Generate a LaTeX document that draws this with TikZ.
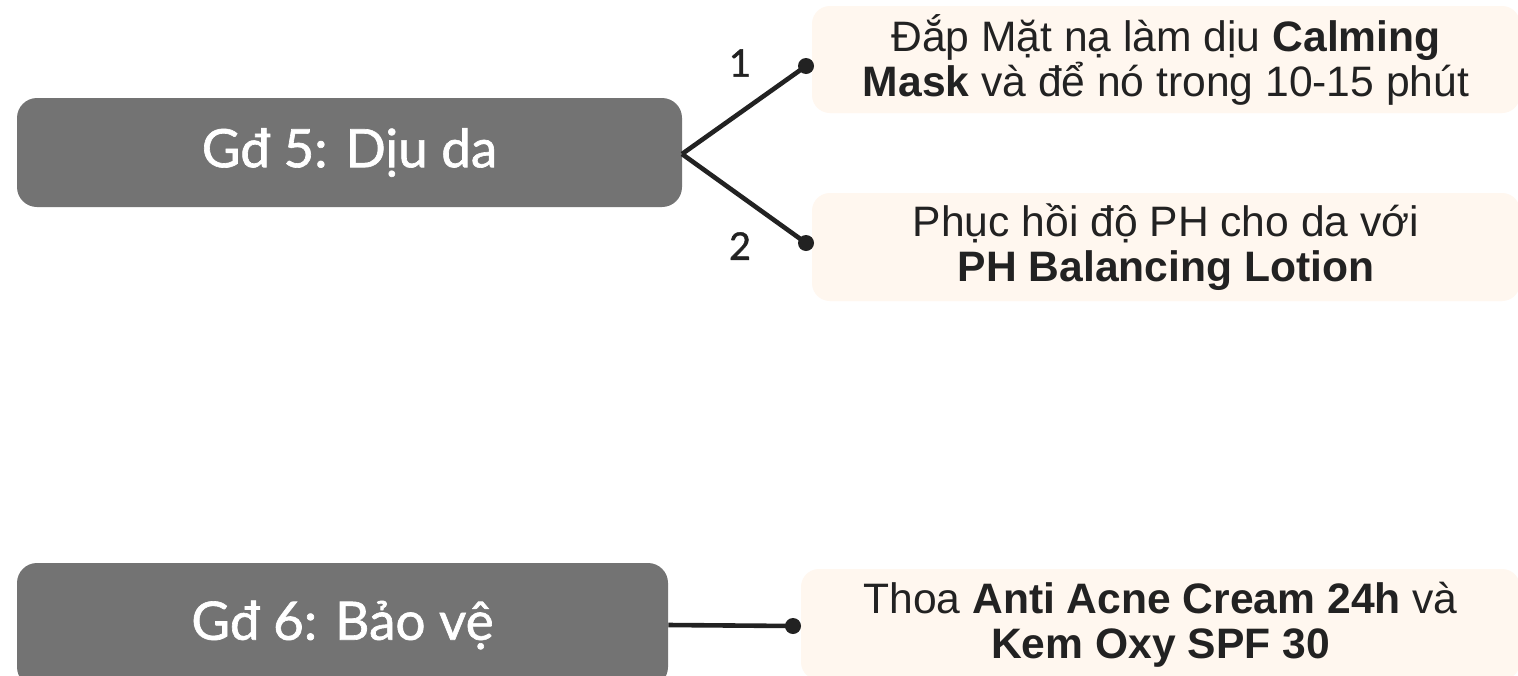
\documentclass[tikz,border=0pt]{standalone}
\usepackage{fontspec}
\setmainfont{Liberation Sans}
\newfontfamily\labelfont[FakeBold=1.2]{Lato}
\definecolor{stagegray}{HTML}{737373}
\definecolor{stepfill}{HTML}{FFF7EF}
\definecolor{inkdark}{HTML}{222222}
\tikzset{
  stagebox/.style={fill=stagegray, rounded corners=10pt, text=white, inner sep=0pt,
    font={\labelfont\fontsize{26.5}{30}\selectfont}},
  stepbox/.style={fill=stepfill, rounded corners=9pt, text=inkdark, inner sep=0pt, align=center,
    font={\fontsize{21.3}{22.5}\selectfont}},
  numlabel/.style={text=inkdark, inner sep=0pt, font={\labelfont\fontsize{19}{22}\selectfont}},
  dotnode/.style={circle, fill=inkdark, minimum size=8pt, inner sep=0pt},
  link/.style={draw=inkdark, line width=2.3pt}
}
\begin{document}
\begin{tikzpicture}[x=0.5pt, y=-0.5pt]
\useasboundingbox (0,0) rectangle (1518,675);
\fill[white] (0,0) rectangle (1518,675);
\clip (0,0) rectangle (1518,675);
% stage boxes
\node[stagebox, minimum width=332.5pt, minimum height=54.5pt] (g5) at (349.5,152.5) {Gđ 5: Dịu da};
\node[stagebox, minimum width=325.5pt, minimum height=62pt] (g6) at (342.5,625) {Gđ 6: Bảo vệ};
% step boxes
\node[stepbox, minimum width=354pt, minimum height=53.5pt] (s1) at (1166,59.5)
  {Đắp Mặt nạ làm dịu \textbf{Calming}\\\textbf{Mask} và để nó trong 10-15 phút};
\node[stepbox, minimum width=354pt, minimum height=54pt] (s2) at (1166,247)
  {Phục hồi độ PH cho da với\\\textbf{PH Balancing Lotion}};
\node[stepbox, minimum width=359.5pt, minimum height=55.5pt] (s3) at (1160.5,624.5)
  {Thoa \textbf{Anti Acne Cream 24h} và\\\textbf{Kem Oxy SPF 30}};
% dots
\node[dotnode] (d1) at (806,66) {};
\node[dotnode] (d2) at (806,243) {};
\node[dotnode] (d3) at (793,626) {};
% connectors
\coordinate (apex) at (682,154);
\draw[link] (apex) -- (d1.center);
\draw[link] (apex) -- (d2.center);
\draw[link] (g6.east) -- (d3.center);
% labels
\node[numlabel] (n1) at (740,63) {1};
\node[numlabel] (n2) at (740,246) {2};
\end{tikzpicture}
\end{document}
